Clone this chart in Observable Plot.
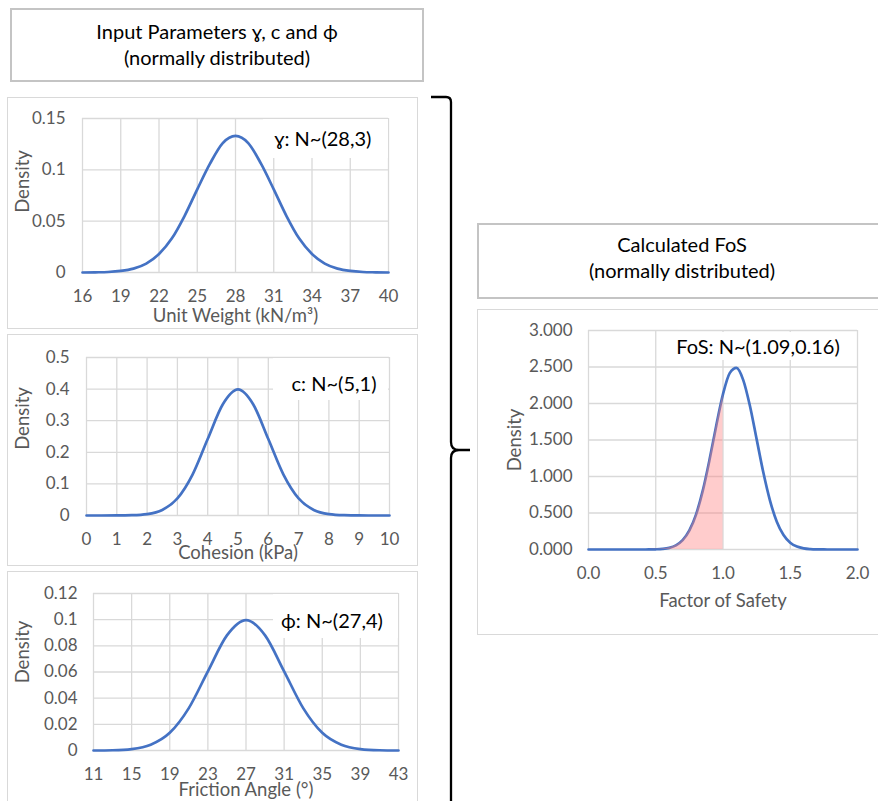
<!DOCTYPE html>
<html><head><meta charset="utf-8">
<script src="https://cdn.jsdelivr.net/npm/d3@7"></script>
<script src="https://cdn.jsdelivr.net/npm/@observablehq/plot@0.6"></script>
<style>
body{margin:0;background:#fff;}
#root{position:relative;width:878px;height:801px;overflow:hidden;background:#fff;font-family:Lato,"DejaVu Sans",sans-serif;}
.box{position:absolute;box-sizing:border-box;border:1.5px solid #d9d9d9;background:#fff;}
.tbox{position:absolute;box-sizing:border-box;border:2px solid #c4c4c4;background:#fff;display:flex;flex-direction:column;align-items:center;justify-content:center;text-align:center;font-size:20px;line-height:26px;color:#000;}
.wbox{position:absolute;background:#fff;}
.ltxt{position:absolute;transform:translate(-50%,-50%);white-space:nowrap;font-size:20px;color:#000;}
.chart{position:absolute;}
</style></head><body><div id="root"></div>
<script>
// ---------- data ----------
const gammaX = [16,17,18,19,20,21,22,23,24,25,26,27,28,29,30,31,32,33,34,35,36,37,38,39,40];
const gammaDensity = [0,0.0002,0.0005,0.0015,0.0038,0.0087,0.018,0.033,0.055,0.081,0.106,0.126,0.133,0.126,0.106,0.081,0.055,0.033,0.018,0.0087,0.0038,0.0015,0.0005,0.0002,0];
const gammaXTicks = [16,19,22,25,28,31,34,37,40];
const gammaYTicks = [0,0.05,0.1,0.15];

const cohesionX = [0,0.5,1,1.5,2,2.5,3,3.5,4,4.5,5,5.5,6,6.5,7,7.5,8,8.5,9,9.5,10];
const cohesionDensity = [0,0,0.0001,0.0009,0.0044,0.0175,0.054,0.1295,0.242,0.352,0.399,0.352,0.242,0.1295,0.054,0.0175,0.0044,0.0009,0.0001,0,0];
const cohesionXTicks = [0,1,2,3,4,5,6,7,8,9,10];
const cohesionYTicks = [0,0.1,0.2,0.3,0.4,0.5];

const phiX = [11,13,15,17,19,21,23,25,27,29,31,33,35,37,39,41,43];
const phiDensity = [0,0.0002,0.0011,0.0044,0.0135,0.0324,0.0605,0.088,0.0997,0.088,0.0605,0.0324,0.0135,0.0044,0.0011,0.0002,0];
const phiXTicks = [11,15,19,23,27,31,35,39,43];
const phiYTicks = [0,0.02,0.04,0.06,0.08,0.1,0.12];

const fosX = [0,0.05,0.1,0.15,0.2,0.25,0.3,0.35,0.4,0.45,0.5,0.55,0.6,0.65,0.7,0.75,0.8,0.85,0.9,0.95,1.0,1.05,1.1,1.15,1.2,1.25,1.3,1.35,1.4,1.45,1.5,1.55,1.6,1.65,1.7,1.75,1.8,1.85,1.9,1.95,2.0];
const fosDensity = [0,0,0,0,0,0,0,0,0.0001,0.0008,0.0028,0.0084,0.0229,0.0568,0.128,0.261,0.482,0.809,1.232,1.7,2.128,2.416,2.488,2.324,1.969,1.512,1.054,0.666,0.381,0.198,0.0935,0.04,0.0155,0.0055,0.0017,0.0005,0.0001,0,0,0,0];
const fosXTicks = [0,0.5,1.0,1.5,2.0];
const fosYTicks = [0,0.5,1,1.5,2,2.5,3];
const fosFailureLimit = 1.0;

const inputTitle = ["Input Parameters \u0263, c and \u03D5", "(normally distributed)"];
const fosTitle = ["Calculated FoS", "(normally distributed)"];
const gammaLabel = "\u0263: N~(28,3)";
const cohesionLabel = "c: N~(5,1)";
const phiLabel = "\u03D5: N~(27,4)";
const fosLabel = "FoS: N~(1.09,0.16)";

// ---------- layout ----------
const root = document.getElementById("root");
function el(cls, css, html) {
  const d = document.createElement("div");
  d.className = cls;
  Object.assign(d.style, css);
  if (html != null) d.innerHTML = html;
  root.appendChild(d);
  return d;
}
const px = v => v + "px";

function titleBox(lines, b, pad) {
  el("tbox", {left:px(b.x), top:px(b.y), width:px(b.w), height:px(b.h), paddingBottom:px(pad)},
     lines.map(t => `<div>${t}</div>`).join(""));
}

const BLUE = "#4472C4", GRID = "#d9d9d9", GREY = "#595959";
const trim = d => String(+d.toFixed(4));

function densityChart(o) {
  const {box, plot} = o;
  el("box", {left:px(box.x), top:px(box.y), width:px(box.w), height:px(box.h)});
  const data = o.x.map((v, i) => ({x: v, y: o.y[i]}));
  const marks = [
    Plot.gridX(o.xTicks, {stroke: GRID, strokeOpacity: 1, strokeWidth: 1.3}),
    Plot.gridY(o.yTicks, {stroke: GRID, strokeOpacity: 1, strokeWidth: 1.3}),
    Plot.lineY(data, {x: "x", y: "y", stroke: BLUE, strokeWidth: 2.7, curve: "monotone-x"})
  ];
  if (o.shadeBelow != null) {
    marks.push(Plot.areaY(data.filter(d => d.x <= o.shadeBelow + 1e-9),
      {x: "x", y: "y", fill: "#ff7f7f", fillOpacity: 0.4, curve: "monotone-x"}));
  }
  marks.push(
    Plot.axisX(o.xTicks, {tickSize: 0, tickPadding: 17, tickFormat: o.xFmt, color: GREY, label: null}),
    Plot.axisY(o.yTicks, {tickSize: 0, tickPadding: o.yPad, tickFormat: o.yFmt, color: GREY, label: null}),
    Plot.text([o.xTitle], {frameAnchor: "bottom", dy: o.xTitleDy, lineAnchor: "middle", textAnchor: "middle",
      text: d => d, fill: GREY, fontSize: 18.5}),
    Plot.text(["Density"], {frameAnchor: "left", rotate: -90, dx: o.yTitleDx, dy: o.yTitleDy,
      lineAnchor: "middle", textAnchor: "middle", text: d => d, fill: GREY, fontSize: 18.5})
  );
  const chart = Plot.plot({
    width: box.w, height: box.h,
    marginLeft: plot.l - box.x, marginRight: box.x + box.w - plot.r,
    marginTop: plot.t - box.y, marginBottom: box.y + box.h - plot.b,
    style: {background: "transparent", fontFamily: "Lato, 'DejaVu Sans', sans-serif", fontSize: "17px", overflow: "visible"},
    x: {domain: o.xDomain},
    y: {domain: o.yDomain},
    marks
  });
  chart.classList.add("chart");
  chart.style.left = px(box.x);
  chart.style.top = px(box.y);
  root.appendChild(chart);
  // annotation label with white background
  const L = o.label;
  el("wbox", {left:px(L.x), top:px(L.y), width:px(L.w), height:px(L.h)});
  el("ltxt", {left:px(L.cx), top:px(L.cy)}, L.text);
}

titleBox(inputTitle, {x:10, y:8, w:414, h:74}, 3);
titleBox(fosTitle, {x:477, y:223, w:410, h:76}, 9);

densityChart({
  x: gammaX, y: gammaDensity, xTicks: gammaXTicks, yTicks: gammaYTicks,
  xDomain: [16, 40], yDomain: [0, 0.15], xFmt: trim, yFmt: trim, yPad: 17,
  xTitle: "Unit Weight (kN/m\u00B3)", xTitleDy: 44, yTitleDx: -59, yTitleDy: -14,
  box: {x:7, y:97, w:411, h:232}, plot: {l:82, r:388, t:118, b:272},
  label: {x:263, y:119, w:125, h:39, cx:323, cy:138, text: gammaLabel}
});
densityChart({
  x: cohesionX, y: cohesionDensity, xTicks: cohesionXTicks, yTicks: cohesionYTicks,
  xDomain: [0, 10], yDomain: [0, 0.5], xFmt: trim, yFmt: trim, yPad: 17,
  xTitle: "Cohesion (kPa)", xTitleDy: 38, yTitleDx: -63, yTitleDy: -18,
  box: {x:7, y:334, w:411, h:232}, plot: {l:86, r:389, t:357, b:515},
  label: {x:273, y:358, w:115, h:42, cx:334, cy:383, text: cohesionLabel}
});
densityChart({
  x: phiX, y: phiDensity, xTicks: phiXTicks, yTicks: phiYTicks,
  xDomain: [11, 43], yDomain: [0, 0.12], xFmt: trim, yFmt: trim, yPad: 16,
  xTitle: "Friction Angle (\u00B0)", xTitleDy: 40, yTitleDx: -70, yTitleDy: -20,
  box: {x:7, y:571, w:411, h:240}, plot: {l:93, r:398, t:593, b:750},
  label: {x:273, y:594, w:125, h:44, cx:332, cy:620, text: phiLabel}
});
densityChart({
  x: fosX, y: fosDensity, xTicks: fosXTicks, yTicks: fosYTicks,
  xDomain: [0, 2], yDomain: [0, 3], xFmt: d3.format(".1f"), yFmt: d3.format(".3f"), yPad: 16,
  xTitle: "Factor of Safety", xTitleDy: 52, yTitleDx: -73, yTitleDy: 0,
  shadeBelow: fosFailureLimit,
  box: {x:477, y:309, w:410, h:326}, plot: {l:588, r:857, t:330, b:549},
  label: {x:672, y:332, w:176, h:28, cx:758, cy:346, text: fosLabel}
});

// curly bracket joining the inputs to the output
const ns = "http://www.w3.org/2000/svg";
const br = document.createElementNS(ns, "svg");
br.setAttribute("width", 878); br.setAttribute("height", 801);
br.style.position = "absolute"; br.style.left = "0"; br.style.top = "0"; br.style.pointerEvents = "none";
const p = document.createElementNS(ns, "path");
p.setAttribute("d", "M431,97 H446 Q451,97 451,102 V442 Q451,450 459,450 H470 M459,450 Q451,450 451,458 V810");
p.setAttribute("fill", "none"); p.setAttribute("stroke", "#000"); p.setAttribute("stroke-width", "2.3");
br.appendChild(p);
root.appendChild(br);
</script></body></html>
